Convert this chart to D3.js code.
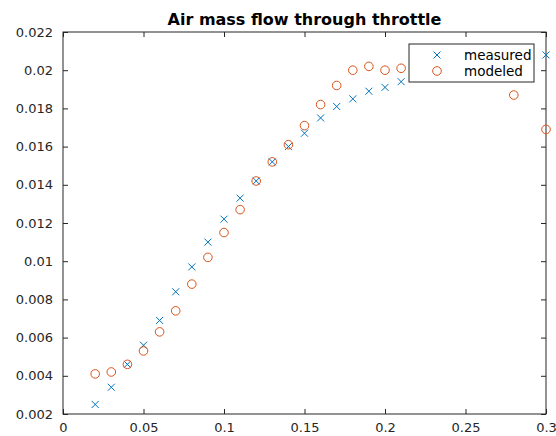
<!DOCTYPE html>
<html>
<head>
<meta charset="utf-8">
<script src="https://cdn.jsdelivr.net/npm/d3@7"></script>
<style>
  body { margin: 0; background: #fff; }
  text { font-family: "DejaVu Sans", sans-serif; }
</style>
</head>
<body>
<div id="chart"></div>
<script>
// throttle opening (x) and flows
var throttle = [0.02, 0.03, 0.04, 0.05, 0.06, 0.07, 0.08, 0.09, 0.10, 0.11,
                0.12, 0.13, 0.14, 0.15, 0.16, 0.17, 0.18, 0.19, 0.20, 0.21,
                0.22, 0.23, 0.24, 0.25, 0.26, 0.27, 0.28, 0.29, 0.30];
var measured = [0.0025, 0.0034, 0.0046, 0.0056, 0.0069, 0.0084, 0.0097, 0.0110, 0.0122, 0.0133,
                0.0142, 0.0152, 0.0160, 0.0167, 0.0175, 0.0181, 0.0185, 0.0189, 0.0191, 0.0194,
                0.0197, 0.0199, 0.0200, 0.0201, 0.0203, 0.0204, 0.0205, 0.0206, 0.0208];
// modeled points: 0.22..0.27 sit under the legend, 0.29 has no point
var modeledX = [0.02, 0.03, 0.04, 0.05, 0.06, 0.07, 0.08, 0.09, 0.10, 0.11,
                0.12, 0.13, 0.14, 0.15, 0.16, 0.17, 0.18, 0.19, 0.20, 0.21,
                0.22, 0.23, 0.24, 0.25, 0.26, 0.27, 0.28, 0.30];
var modeled = [0.0041, 0.0042, 0.0046, 0.0053, 0.0063, 0.0074, 0.0088, 0.0102, 0.0115, 0.0127,
               0.0142, 0.0152, 0.0161, 0.0171, 0.0182, 0.0192, 0.0200, 0.0202, 0.0200, 0.0201,
               0.0201, 0.0201, 0.0200, 0.0199, 0.0198, 0.0197, 0.0187, 0.0169];
var xTicks = [0, 0.05, 0.1, 0.15, 0.2, 0.25, 0.3];
var yTicks = [0.002, 0.004, 0.006, 0.008, 0.01, 0.012, 0.014, 0.016, 0.018, 0.02, 0.022];
var seriesNames = ["measured", "modeled"];

var W = 556, H = 436;
var margin = {left: 63, right: 10, top: 32, bottom: 22};
var width = W - margin.left - margin.right;
var height = H - margin.top - margin.bottom;
var blue = "#0072BD", orange = "#D95319", axisCol = "#262626";

var svg = d3.select("#chart").append("svg")
  .attr("width", W).attr("height", H);
var g = svg.append("g")
  .attr("transform", "translate(" + margin.left + "," + margin.top + ")");

var x = d3.scaleLinear().domain([0, 0.3]).range([0, width]);
var y = d3.scaleLinear().domain([0.002, 0.022]).range([height, 0]);

// trim trailing zeros like matlab does
var fmt = function(d){ return String(+d.toFixed(4)); };

// axes, ticks pointing inward
function styleAxis(sel){
  sel.select(".domain").remove();
  sel.selectAll("line").attr("stroke", axisCol);
  sel.selectAll("text").attr("fill", axisCol).attr("font-size", "13px");
}
g.append("g").attr("transform", "translate(0," + height + ")")
  .call(d3.axisBottom(x).tickValues(xTicks).tickFormat(fmt).tickSizeInner(-5).tickSizeOuter(0).tickPadding(9))
  .call(styleAxis);
g.append("g")
  .call(d3.axisTop(x).tickValues(xTicks).tickFormat("").tickSizeInner(-5).tickSizeOuter(0))
  .call(styleAxis);
g.append("g")
  .call(d3.axisLeft(y).tickValues(yTicks).tickFormat(fmt).tickSizeInner(-5).tickSizeOuter(0).tickPadding(10))
  .call(styleAxis);
g.append("g").attr("transform", "translate(" + width + ",0)")
  .call(d3.axisRight(y).tickValues(yTicks).tickFormat("").tickSizeInner(-5).tickSizeOuter(0))
  .call(styleAxis);
g.append("rect")
  .attr("x", 0).attr("y", 0).attr("width", width).attr("height", height)
  .attr("fill", "none").attr("stroke", axisCol).attr("stroke-width", 1);

// title
svg.append("text")
  .attr("x", margin.left + width / 2).attr("y", 25)
  .attr("text-anchor", "middle")
  .attr("font-size", "16px").attr("font-weight", "bold")
  .attr("fill", "#000")
  .text("Air mass flow through throttle");

var cross = "M-3.5,-3.5L3.5,3.5M-3.5,3.5L3.5,-3.5";

// measured crosses
g.selectAll(".meas").data(measured).enter().append("path")
  .attr("class", "meas")
  .attr("transform", function(d, i){ return "translate(" + x(throttle[i]) + "," + y(d) + ")"; })
  .attr("d", cross)
  .attr("stroke", blue).attr("stroke-width", 1).attr("fill", "none");

// modeled circles
g.selectAll(".mod").data(modeled).enter().append("circle")
  .attr("class", "mod")
  .attr("cx", function(d, i){ return x(modeledX[i]); })
  .attr("cy", function(d){ return y(d); })
  .attr("r", 4.3)
  .attr("stroke", orange).attr("stroke-width", 1).attr("fill", "none");

// legend
var leg = svg.append("g").attr("transform", "translate(409,44)");
leg.append("rect")
  .attr("width", 125).attr("height", 38)
  .attr("fill", "#fff").attr("stroke", axisCol).attr("stroke-width", 1);
seriesNames.forEach(function(name, i){
  var row = leg.append("g").attr("transform", "translate(28," + (11 + i * 16) + ")");
  if (i === 0) {
    row.append("path").attr("d", cross).attr("stroke", blue).attr("fill", "none");
  } else {
    row.append("circle").attr("r", 4.3).attr("stroke", orange).attr("fill", "none");
  }
  row.append("text")
    .attr("x", 27).attr("y", 4.5)
    .attr("font-size", "13.5px").attr("fill", "#000")
    .text(name);
});
</script>
</body>
</html>
